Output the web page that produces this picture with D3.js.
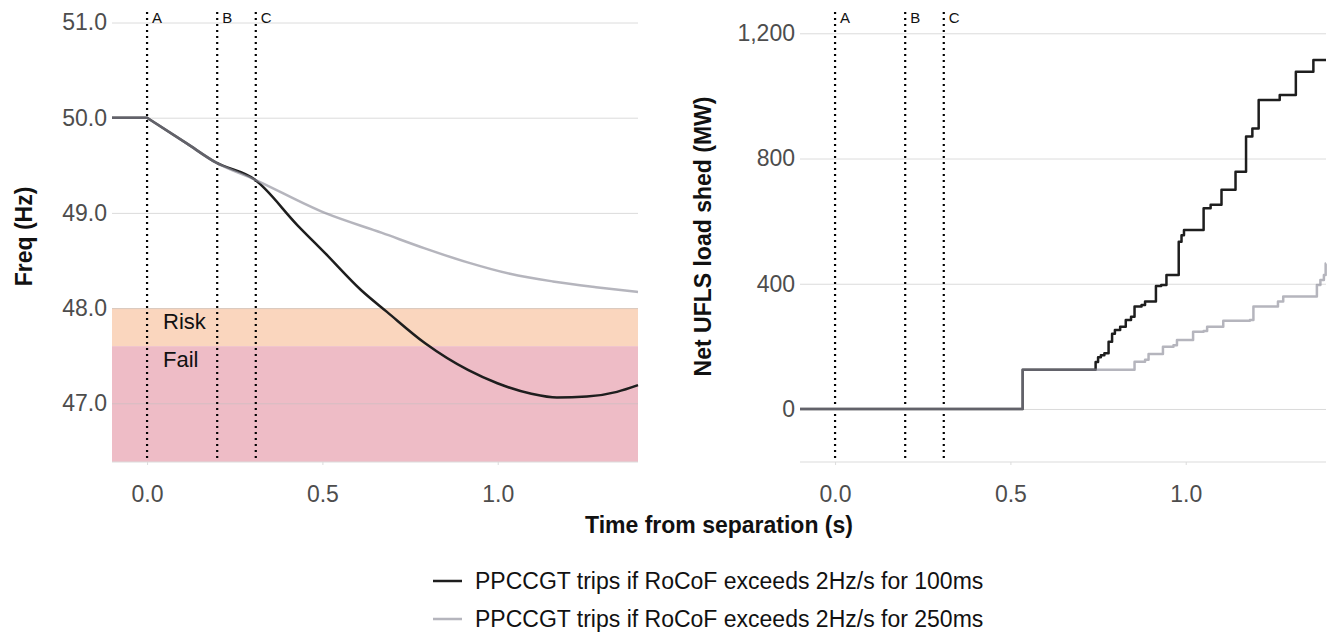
<!DOCTYPE html>
<html>
<head>
<meta charset="utf-8">
<script src="https://cdn.jsdelivr.net/npm/d3@7"></script>
<style>
  body { margin: 0; background: #fff; }
  svg text { font-family: "Liberation Sans", Arial, sans-serif; }
</style>
</head>
<body>
<div class="chart"></div>
<script>
// Data ------------------------------------------------------------------------------------------------------
const seriesNames = ["PPCCGT trips if RoCoF exceeds 2Hz/s for 100ms", "PPCCGT trips if RoCoF exceeds 2Hz/s for 250ms"];

// frequency (Hz) against time from separation (s)
const freqTime100 = [-0.1, 0, 0.113, 0.196, 0.307, 0.429, 0.507, 0.61, 0.684, 0.793, 0.915, 0.999, 1.096, 1.169, 1.254, 1.34, 1.4];
const freqHz100   = [50, 50, 49.73, 49.53, 49.35, 48.87, 48.58, 48.19, 47.96, 47.63, 47.35, 47.21, 47.10, 47.06, 47.07, 47.12, 47.19];
const freqTime250 = [-0.1, 0, 0.113, 0.196, 0.307, 0.507, 0.67, 0.79, 0.914, 1.035, 1.157, 1.28, 1.4];
const freqHz250   = [50, 50, 49.73, 49.53, 49.35, 49.0, 48.79, 48.63, 48.48, 48.36, 48.28, 48.22, 48.17];

// net UFLS load shed (MW), step changes
const shedTime100 = [-0.1, 0.535, 0.743, 0.75, 0.758, 0.768, 0.78, 0.79, 0.798, 0.813, 0.829, 0.844, 0.854, 0.874, 0.884, 0.915, 0.93, 0.945, 0.98, 0.988, 0.995, 1.051, 1.071, 1.102, 1.142, 1.172, 1.19, 1.208, 1.268, 1.314, 1.364, 1.4];
const shedMW100   = [0, 125, 150, 165, 172, 178, 215, 240, 252, 263, 284, 295, 327, 332, 343, 393, 396, 428, 534, 555, 572, 641, 652, 700, 758, 870, 896, 987, 1003, 1077, 1115, 1115];
const shedTime250 = [-0.1, 0.535, 0.854, 0.884, 0.894, 0.935, 0.965, 0.975, 1.021, 1.051, 1.061, 1.107, 1.183, 1.193, 1.263, 1.278, 1.374, 1.384, 1.394, 1.399, 1.4];
const shedMW250   = [0, 125, 151, 157, 176, 199, 204, 220, 247, 249, 263, 282, 284, 327, 343, 359, 396, 412, 428, 465, 465];

// events
const eventTimes  = [0, 0.2, 0.31];
const eventLabels = ["A", "B", "C"];

// frequency bands
const bandLabels = ["Risk", "Fail"];
const bandTop    = [48.0, 47.6];
const bandBottom = [47.6, null];   // null = to bottom of panel

// ticks
const timeTicks = [0, 0.5, 1.0];
const freqTicks = [47, 48, 49, 50, 51];
const shedTicks = [0, 400, 800, 1200];

// Styles ----------------------------------------------------------------------------------------------------
const black = "#1e1e1e",
      grey = "rgb(138,138,150)",
      greyOpacity = 0.63,
      bandColors = ["#fad6be", "#eebcc6"];

// SVG -------------------------------------------------------------------------------------------------------
const width = 1335, height = 635;
const svg = d3.select(".chart").append("svg")
  .attr("width", width)
  .attr("height", height);

const panelTop = 11, panelBottom = 462;

// Left panel scales
const xLeft = d3.scaleLinear().domain([-0.1, 1.4]).range([112, 638]);
const yLeft = d3.scaleLinear().domain([46.383, 51.121]).range([panelBottom, panelTop]);

// Right panel scales
const xRight = d3.scaleLinear().domain([-0.1, 1.4]).range([800, 1326]);
const yRight = d3.scaleLinear().domain([-169.3, 1271.2]).range([panelBottom, panelTop]);

const zip = (xs, ys) => xs.map((x, i) => ({t: x, v: ys[i]}));

// Panel builder ---------------------------------------------------------------------------------------------
function drawPanel(x, y, yTicks, yFormat, lines100, lines250, pathOf, yTitle, yTitleX) {
  const g = svg.append("g");

  // y grid + labels
  const yAxis = g.append("g")
    .attr("transform", `translate(${x.range()[0]},0)`)
    .call(d3.axisLeft(y).tickValues(yTicks).tickSize(-(x.range()[1] - x.range()[0])).tickPadding(5).tickFormat(yFormat));
  yAxis.select(".domain").remove();
  yAxis.selectAll(".tick line").attr("stroke", "rgb(190,190,190)").attr("stroke-opacity", 0.55);
  yAxis.selectAll(".tick text").attr("fill", "#4d4d4d").style("font-size", "23px");

  // x axis line + labels
  const xAxis = g.append("g")
    .attr("transform", `translate(0,${panelBottom})`)
    .call(d3.axisBottom(x).tickValues(timeTicks).tickSize(3).tickPadding(21).tickFormat(d3.format(".1f")));
  xAxis.select(".domain").attr("stroke", "#dcdcdc").attr("stroke-width", 1.2).attr("d", `M${x.range()[0]},0H${x.range()[1]}`);
  xAxis.selectAll(".tick line").attr("stroke", "#dcdcdc");
  xAxis.selectAll(".tick text").attr("fill", "#4d4d4d").style("font-size", "23px");

  // event lines
  g.selectAll(".event").data(eventTimes).enter()
    .append("line")
    .attr("x1", d => x(d)).attr("x2", d => x(d))
    .attr("y1", panelTop + 1).attr("y2", panelBottom)
    .attr("stroke", "#000")
    .attr("stroke-width", 2.2)
    .attr("stroke-dasharray", "2,4");
  g.selectAll(".event-label").data(eventTimes).enter()
    .append("text")
    .attr("x", d => x(d) + 5)
    .attr("y", 23)
    .style("font-size", "15px")
    .attr("fill", "#111")
    .text((d, i) => eventLabels[i]);

  // series
  g.append("path")
    .attr("d", pathOf(lines100)).attr("fill", "none")
    .attr("stroke", black).attr("stroke-width", 2.5).attr("stroke-linejoin", "round");
  g.append("path")
    .attr("d", pathOf(lines250)).attr("fill", "none")
    .attr("stroke", grey).attr("stroke-opacity", greyOpacity)
    .attr("stroke-width", 2.5).attr("stroke-linejoin", "round");

  // y title
  g.append("text")
    .attr("transform", `translate(${yTitleX},${(panelTop + panelBottom) / 2}) rotate(-90)`)
    .attr("text-anchor", "middle")
    .attr("dominant-baseline", "central")
    .style("font-size", "23px")
    .style("font-weight", "bold")
    .attr("fill", "#111")
    .text(yTitle);
  return g;
}

// frequency path: flat lead-in drawn straight, the rest smoothed
const freqLine = d3.line().curve(d3.curveMonotoneX).x(d => xLeft(d.t)).y(d => yLeft(d.v));
const freqPath = pts => `M${xLeft(pts[0].t)},${yLeft(pts[0].v)}L` + freqLine(pts.slice(1)).slice(1);

// load shed path: steps
const shedLine = d3.line().curve(d3.curveStepAfter).x(d => xRight(d.t)).y(d => yRight(d.v));

// Left panel: bands first, so they sit under the grid
const bandG = svg.append("g");
bandLabels.forEach((label, i) => {
  const top = yLeft(bandTop[i]);
  const bottom = bandBottom[i] === null ? panelBottom : yLeft(bandBottom[i]);
  bandG.append("rect")
    .attr("x", xLeft.range()[0]).attr("y", top)
    .attr("width", xLeft.range()[1] - xLeft.range()[0])
    .attr("height", bottom - top)
    .attr("fill", bandColors[i]);
});

const leftG = drawPanel(xLeft, yLeft, freqTicks, d3.format(".1f"),
  zip(freqTime100, freqHz100), zip(freqTime250, freqHz250), freqPath, "Freq (Hz)", 24);

// band labels
bandLabels.forEach((label, i) => {
  leftG.append("text")
    .attr("x", 163)
    .attr("y", yLeft(bandTop[i]) + 21)
    .style("font-size", "22px")
    .attr("fill", "#111")
    .text(label);
});

drawPanel(xRight, yRight, shedTicks, d3.format(","),
  zip(shedTime100, shedMW100), zip(shedTime250, shedMW250), shedLine, "Net UFLS load shed (MW)", 703);

// Axis title
svg.append("text")
  .attr("x", 719).attr("y", 533)
  .attr("text-anchor", "middle")
  .style("font-size", "23px")
  .style("font-weight", "bold")
  .attr("fill", "#111")
  .text("Time from separation (s)");

// Legend ----------------------------------------------------------------------------------------------------
const legendY = [581, 619];
const legend = svg.append("g");
seriesNames.forEach((name, i) => {
  legend.append("line")
    .attr("x1", 433).attr("x2", 462)
    .attr("y1", legendY[i]).attr("y2", legendY[i])
    .attr("stroke", i === 0 ? black : grey)
    .attr("stroke-opacity", i === 0 ? 1 : greyOpacity)
    .attr("stroke-width", 2.5);
  legend.append("text")
    .attr("x", 475).attr("y", legendY[i])
    .attr("dominant-baseline", "central")
    .style("font-size", "23px")
    .attr("fill", "#111")
    .text(name);
});
</script>
</body>
</html>
